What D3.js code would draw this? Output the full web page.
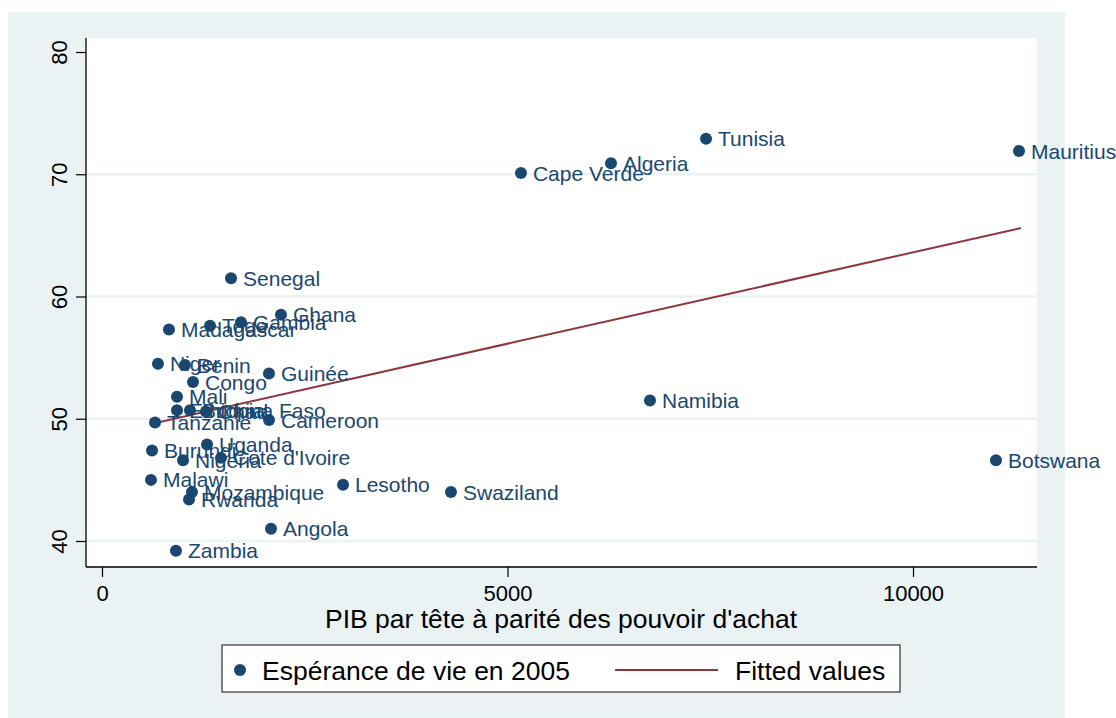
<!DOCTYPE html>
<html><head><meta charset="utf-8">
<script src="https://cdn.jsdelivr.net/npm/d3@7"></script>
<style>body{margin:0;background:#fff} text{font-family:"Liberation Sans",Arial,Helvetica,sans-serif}</style>
</head><body><svg id="c" width="1116" height="718"></svg>
<script>
const countries = ["Mauritius","Tunisia","Algeria","Cape Verde","Senegal","Ghana","Gambia","Togo","Madagascar","Niger","Benin","Congo","Guinée","Mali","Ethiopia","Burkina Faso","Chad","Tanzanie","Cameroon","Burundi","Uganda","Nigeria","Cote d'Ivoire","Malawi","Mozambique","Rwanda","Lesotho","Swaziland","Angola","Zambia","Namibia","Botswana"];
const gdp =     [11307,7448,6276,5166,1591,2207,1714,1332,826,690,1023,1122,2059,925,925,1085,1282,654,2059,617,1295,999,1467,604,1110,1073,2972,4303,2084,912,6757,11023];
const lifeExp = [71.9,72.9,70.9,70.1,61.5,58.5,57.9,57.6,57.3,54.5,54.4,53.0,53.7,51.8,50.7,50.7,50.6,49.7,49.9,47.4,47.9,46.6,46.8,45.0,44.0,43.4,44.6,44.0,41.0,39.2,51.5,46.6];
const xTicks = [0,5000,10000];
const yTicks = [40,50,60,70,80];
const gridTicks = [40,50,60,70];
const fitX = [604,11330];
const fitY = [49.57,65.6];
const xTitle = "PIB par tête à parité des pouvoir d'achat";
const legendLabels = ["Espérance de vie en 2005","Fitted values"];

const C = {marker:"#1a476f", fit:"#90353b", bg:"#eaf2f3"};
const svg = d3.select("#c");
const x = d3.scaleLinear().domain([0,10000]).range([102,913]);
const y = d3.scaleLinear().domain([40,80]).range([541,52]);
const plot = {l:86,t:38,r:1037,b:567};

svg.append("rect").attr("x",8).attr("y",12).attr("width",1057).attr("height",706).attr("fill",C.bg);
svg.append("rect").attr("x",plot.l).attr("y",plot.t).attr("width",plot.r-plot.l).attr("height",plot.b-plot.t).attr("fill","#fff");

svg.append("g").selectAll("line").data(gridTicks).join("line")
  .attr("x1",plot.l).attr("x2",plot.r).attr("y1",d=>y(d)).attr("y2",d=>y(d))
  .attr("stroke",C.bg).attr("stroke-width",2.5);

// axes
const ya = svg.append("g").attr("transform",`translate(${plot.l},0)`)
  .call(d3.axisLeft(y).tickValues(yTicks).tickSize(10).tickSizeOuter(0).tickFormat(d3.format("d")));
ya.select(".domain").attr("d",`M0,${plot.t}V${plot.b}`).attr("stroke","#000").attr("stroke-width",1.3);
ya.selectAll(".tick line").attr("stroke","#000").attr("stroke-width",1.2);
ya.selectAll(".tick text").attr("font-size",22).attr("fill","#000")
  .attr("x",null).attr("dy",null).attr("text-anchor","middle")
  .attr("transform","translate(-19,0) rotate(-90)");

const xa = svg.append("g").attr("transform",`translate(0,${plot.b})`)
  .call(d3.axisBottom(x).tickValues(xTicks).tickSize(10).tickSizeOuter(0).tickFormat(d3.format("d")));
xa.select(".domain").attr("d",`M${plot.l},0H${plot.r}`).attr("stroke","#000").attr("stroke-width",1.6);
xa.selectAll(".tick line").attr("stroke","#000").attr("stroke-width",1.2);
xa.selectAll(".tick text").attr("font-size",22).attr("fill","#000").attr("y",34).attr("dy",null);

svg.append("text").attr("x",561).attr("y",628).attr("text-anchor","middle")
  .attr("font-size",26.5).attr("fill","#000").text(xTitle);

// fitted line
svg.append("path").datum(fitX.map((v,i)=>[v,fitY[i]]))
  .attr("d",d3.line().x(d=>x(d[0])).y(d=>y(d[1])))
  .attr("stroke",C.fit).attr("stroke-width",2).attr("fill","none");

// points
const pts = countries.map((c,i)=>({c,gx:gdp[i],le:lifeExp[i]}));
svg.append("g").selectAll("circle").data(pts).join("circle")
  .attr("cx",d=>x(d.gx)).attr("cy",d=>y(d.le)).attr("r",6).attr("fill",C.marker);
svg.append("g").selectAll("text").data(pts).join("text")
  .attr("x",d=>x(d.gx)+12).attr("y",d=>y(d.le)).attr("dy","0.36em")
  .attr("font-size",21).attr("fill",C.marker).text(d=>d.c);

// legend
const lg = svg.append("g");
lg.append("rect").attr("x",222).attr("y",645).attr("width",678).attr("height",47)
  .attr("fill","#fff").attr("stroke","#333").attr("stroke-width",1.2);
lg.append("circle").attr("cx",240).attr("cy",670).attr("r",6).attr("fill",C.marker);
lg.append("text").attr("x",262).attr("y",680).attr("font-size",26.5).attr("fill","#000").text(legendLabels[0]);
lg.append("line").attr("x1",615).attr("x2",718).attr("y1",670).attr("y2",670).attr("stroke",C.fit).attr("stroke-width",2);
lg.append("text").attr("x",735).attr("y",680).attr("font-size",26.5).attr("fill","#000").text(legendLabels[1]);
</script></body></html>
